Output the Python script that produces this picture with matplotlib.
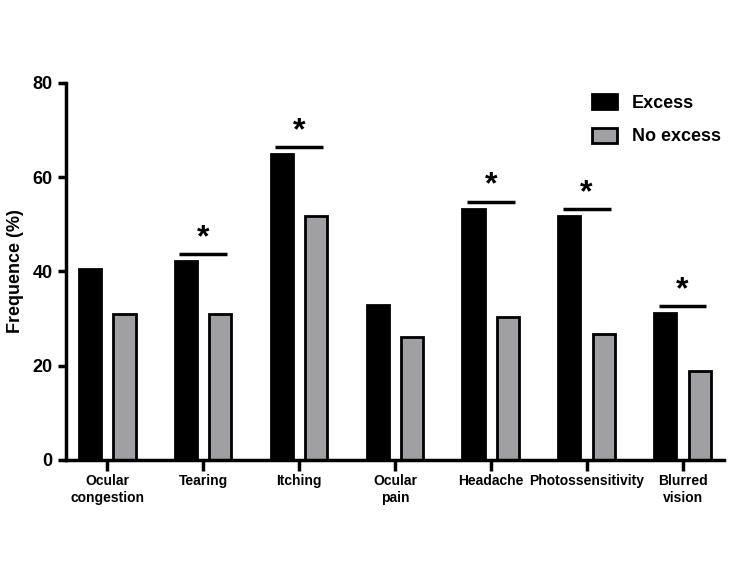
import numpy as np
import matplotlib.pyplot as plt

# data
categories = ["Ocular\ncongestion", "Tearing", "Itching", "Ocular\npain",
              "Headache", "Photossensitivity", "Blurred\nvision"]
excess = [40.5, 42.2, 64.9, 32.8, 53.3, 51.7, 31.1]
no_excess = [31.0, 31.0, 51.7, 26.1, 30.4, 26.7, 18.9]
significant = [False, True, True, False, True, True, True]

plt.rcParams['font.family'] = ['Liberation Sans', 'DejaVu Sans']
plt.rcParams['font.weight'] = 'bold'

fig = plt.figure(figsize=(7.5, 5.63), dpi=100)
ax = fig.add_axes([0.088, 0.183, 0.877, 0.67])

x = np.arange(len(categories))
w = 0.23
off = 0.18
ax.bar(x - off, excess, w, color='black', edgecolor='black', linewidth=2, label='Excess')
ax.bar(x + off, no_excess, w, color='#a0a0a4', edgecolor='black', linewidth=2, label='No excess')

# significance bars
for i, sig in enumerate(significant):
    if not sig:
        continue
    h = excess[i] + 1.5
    ax.plot([x[i] - 0.25, x[i] + 0.25], [h, h], color='black', lw=2.5, solid_capstyle='butt')
    ax.text(x[i], h + 0.2, '*', ha='center', va='bottom', fontsize=23, fontweight='bold')

ax.set_xlim(-0.43, len(categories) - 1 + 0.43)
ax.set_ylim(0, 80)
ax.set_yticks([0, 20, 40, 60, 80])
ax.set_xticks(x)
ax.set_xticklabels(categories, fontsize=10, fontweight='bold', linespacing=1.25)
ax.tick_params(axis='y', labelsize=13, width=2.5, length=6)
ax.tick_params(axis='x', width=2.5, length=8, pad=2)
for lab in ax.get_yticklabels():
    lab.set_fontweight('bold')
ax.set_ylabel('Frequence (%)', fontsize=13, fontweight='bold', labelpad=6)

for s in ['top', 'right']:
    ax.spines[s].set_visible(False)
for s in ['left', 'bottom']:
    ax.spines[s].set_linewidth(2.5)

leg = ax.legend(loc='upper right', bbox_to_anchor=(1.02, 1.012), frameon=False,
                fontsize=13, handlelength=1.4, handleheight=0.9, labelspacing=0.85,
                handletextpad=0.8)
for t in leg.get_texts():
    t.set_fontweight('bold')

fig.savefig('out.png', dpi=100)
